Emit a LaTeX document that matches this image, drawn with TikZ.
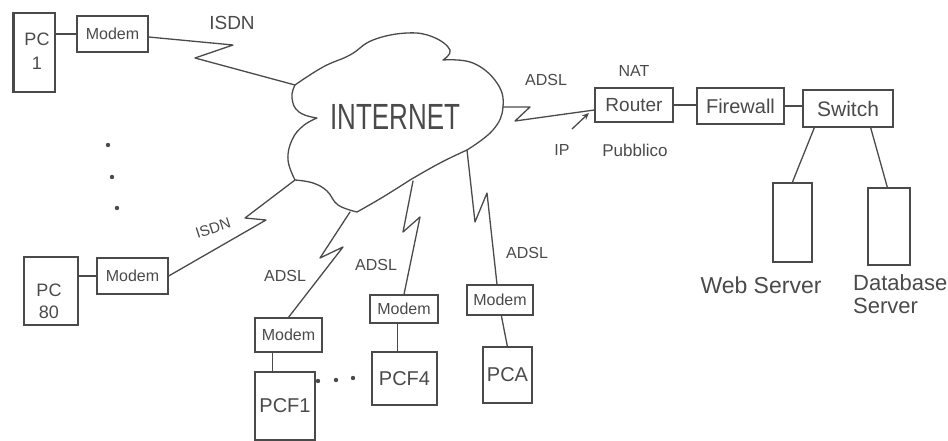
\documentclass[tikz,border=0pt]{standalone}
\usepackage{fontspec}
\setmainfont{Liberation Sans}
\usetikzlibrary{calc,arrows.meta}
\definecolor{ink}{HTML}{4A4A4A}
\newcommand{\fs}[1]{\fontsize{#1}{#1}\selectfont}
\begin{document}
\begin{tikzpicture}[x=1pt,y=-1pt,
  box/.style={draw=ink, line width=1.3pt, inner sep=0pt, text=ink},
  link/.style={draw=ink, line width=1.3pt, line join=round, line cap=round},
  lbl/.style={text=ink, inner sep=0pt},
  dot/.style={fill=ink}
]
\useasboundingbox (0,0) rectangle (948,441);

% ---------- cloud ----------
\draw[link]
  plot[smooth,tension=0.8] coordinates {(317,118) (299,112) (292,98) (295,85)}
  -- plot[smooth,tension=0.7] coordinates {(295,85) (323,67) (350,55) (373,40) (407,33) (433,37) (450,50) (443,60)}
  -- plot[smooth,tension=0.7] coordinates {(443,60) (473,63) (497,83) (503,107) (493,130) (467,150)}
  -- plot[smooth,tension=0.7] coordinates {(467,150) (440,163) (410,180)}
  -- plot[smooth,tension=0.7] coordinates {(410,180) (383,197) (357,212)}
  -- plot[smooth,tension=0.7] coordinates {(357,212) (338,205) (327,191) (313,183) (295,180)}
  -- plot[smooth,tension=0.7] coordinates {(295,180) (288,160) (292,140) (303,126) (317,118)}
  -- cycle;
\node[lbl, font=\fs{26}] (inet) at (395,117) {\scalebox{1}[1.4]{INTERNET}};

\coordinate (cI1) at (295,85);
\coordinate (cI2) at (295,180);
\coordinate (cF1) at (350,212);
\coordinate (cF4) at (413,181);
\coordinate (cA)  at (467,150);
\coordinate (cR)  at (503,107);

% ---------- left side ----------
\node[box, minimum width=41pt, minimum height=79pt] (pc1) at (34.5,52.5) {};
\draw[ink, line width=3pt] (pc1.north west) -- (pc1.south west);
\node[lbl, align=center, font=\fs{18}, text=ink] (pc1t) at (37,51) {PC\\[6pt]1};
\node[box, minimum width=71pt, minimum height=36pt, font=\fs{16}] (m1) at (112.5,34) {Modem};
\draw[link] (m1.west) -- (m1.west -| pc1.east);
\draw[link] ([yshift=-3pt]m1.east) -- (233,45) -- (195,58) -- (cI1);
\node[lbl, font=\fs{19}] (isdn1) at (232,23) {ISDN};

\fill[dot] (108,145) circle (2.2pt);
\fill[dot] (112,177) circle (2.2pt);
\fill[dot] (117,208) circle (2.2pt);

\node[box, minimum width=54pt, minimum height=68pt] (pc80) at (51,291) {};
\node[lbl, align=center, font=\fs{18}] (pc80t) at (49,301) {PC\\[4pt]80};
\node[box, minimum width=71pt, minimum height=36pt, font=\fs{16}] (m80) at (132.5,276) {Modem};
\draw[link] (m80.west) -- (m80.west -| pc80.east);
\draw[link] (m80.east) -- (266,220) -- (245,218) -- (cI2);
\node[lbl, font=\fs{15}, rotate=18] (isdn2) at (213,228) {ISDN};

% ---------- bottom ----------
\node[box, minimum width=67pt, minimum height=34pt, font=\fs{16}] (mf1) at (288.5,335) {Modem};
\node[box, minimum width=60pt, minimum height=68pt, font=\fs{20}] (pcf1) at (285,406) {PCF1};
\draw[link] ($(mf1.south west)+(18,0)$) coordinate (t1) -- (t1 |- pcf1.north);
\draw[link] (mf1.north) -- (343,247) -- (320,258) -- (cF1);
\node[lbl, font=\fs{16}] (adsl1) at (285,276) {ADSL};

\fill[dot] (318,381) circle (2.2pt);
\fill[dot] (336,380) circle (2.2pt);
\fill[dot] (353,378) circle (2.2pt);

\node[box, minimum width=68pt, minimum height=28pt, font=\fs{16}] (mf4) at (404,309) {Modem};
\node[box, minimum width=65pt, minimum height=53pt, font=\fs{20}] (pcf4) at (404.5,378.5) {PCF4};
\draw[link] ($(mf4.south west)+(28,0)$) coordinate (t4) -- (t4 |- pcf4.north);
\draw[link] (mf4.north) -- (420,217) -- (403,232) -- (cF4);
\node[lbl, font=\fs{16}] (adsl4) at (376,265) {ADSL};

\node[box, minimum width=66pt, minimum height=30pt, font=\fs{16}] (ma) at (500,300) {Modem};
\node[box, minimum width=49pt, minimum height=56pt, font=\fs{20}] (pca) at (507.5,375) {PCA};
\draw[link] ($(ma.south west)+(35,0)$) -- ($(pca.north west)+(25,0)$);
\draw[link] ([xshift=-3pt]ma.north) -- (487,193) -- (475,222) -- (cA);
\node[lbl, font=\fs{16}] (adsla) at (527,253) {ADSL};

% ---------- right side ----------
\node[box, minimum width=78pt, minimum height=34pt, font=\fs{19}] (rt) at (634,105) {Router};
\node[box, minimum width=87pt, minimum height=36pt, font=\fs{20}] (fw) at (740.5,106) {Firewall};
\node[box, minimum width=90pt, minimum height=37pt, font=\fs{21}] (sw) at (848,108.5) {Switch};
\draw[link] (cR) -- (530,107) -- (515,121) -- ([yshift=-5pt]rt.west);
\draw[link] (rt.east) -- (rt.east -| fw.west);
\draw[link] (fw.east) -- (fw.east -| sw.west);
\node[lbl, font=\fs{16}] (adslr) at (546,80) {ADSL};
\node[lbl, font=\fs{16}] (nat) at (634,71) {NAT};
\node[lbl, font=\fs{16}] (ip) at (562,150) {IP};
\node[lbl, font=\fs{17}] (pub) at (635,150) {Pubblico};
\coordinate (ipfrom) at (572,129);
\coordinate (ipto) at (589,113);
\draw[link, -{Stealth[length=7pt,width=6pt]}] (ipfrom) -- (ipto);

\node[box, minimum width=39pt, minimum height=79pt] (web) at (792.5,222.5) {};
\node[box, minimum width=42pt, minimum height=77pt] (db) at (889,226.5) {};
\draw[link] ($(sw.south west)+(12,0)$) -- ($(web.north west)+(20,0)$);
\draw[link] ($(sw.south east)+(-23,0)$) -- ($(db.north west)+(20,0)$);
\node[lbl, font=\fs{23}] (webt) at (761,285) {Web Server};
\node[lbl, font=\fs{22}, align=left, anchor=north west] (dbt) at (853,274) {Database\\[1pt]Server};
\end{tikzpicture}
\end{document}
